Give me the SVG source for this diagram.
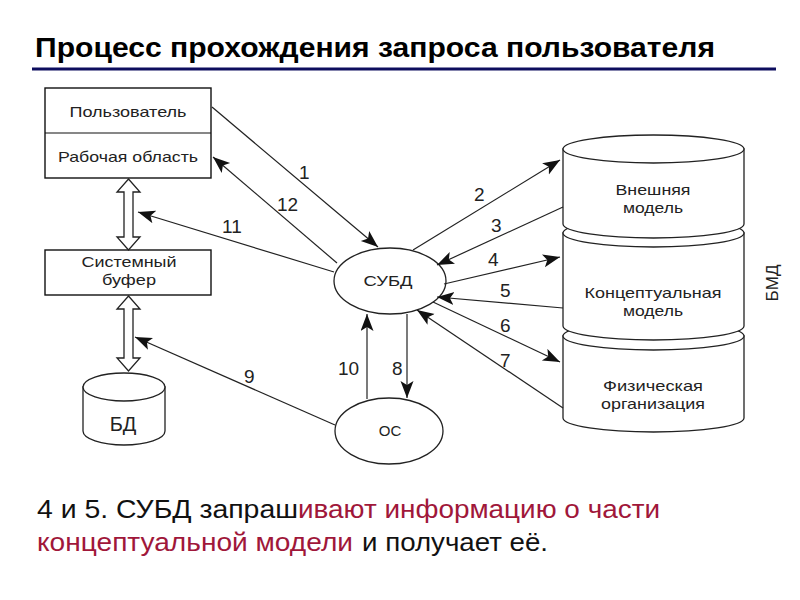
<svg xmlns="http://www.w3.org/2000/svg" width="800" height="600" viewBox="0 0 800 600">
<style>
.box{fill:#fff;stroke:#111;stroke-width:1.4}
.shape{fill:#fff;stroke:#222;stroke-width:1.3}
.t{font-family:"Liberation Sans",Arial,sans-serif;fill:#222;text-anchor:middle}
.n{font-size:15px}
.lbl{font-family:"Liberation Sans",Arial,sans-serif;font-size:19px;fill:#222}
.con{stroke:#222;stroke-width:1.2;fill:none;marker-end:url(#ah)}
.body{font-family:"Liberation Sans",Arial,sans-serif;font-size:26px;fill:#111}
.red{fill:#a0173a}
</style>
<defs>
<marker id="ah" markerUnits="userSpaceOnUse" markerWidth="20" markerHeight="14" refX="17" refY="6.5" orient="auto">
<path d="M0,0 L17,6.5 L0,13 L4,6.5 z" fill="#111"/>
</marker>
</defs>
<rect width="800" height="600" fill="#fff"/>

<text x="35" y="57" font-family="Liberation Sans,Arial,sans-serif" font-size="28" font-weight="bold" fill="#000" textLength="680" lengthAdjust="spacingAndGlyphs">Процесс прохождения запроса пользователя</text>
<line x1="32" y1="69" x2="776" y2="69" stroke="#0d0d5e" stroke-width="3"/>

<g id="user">
<rect class="box" x="45" y="88" width="166" height="90"/>
<line x1="45" y1="133" x2="211" y2="133" stroke="#111" stroke-width="1.2"/>
<text class="t n" x="128" y="117" textLength="117" lengthAdjust="spacingAndGlyphs">Пользователь</text>
<text class="t n" x="128" y="162" textLength="140" lengthAdjust="spacingAndGlyphs">Рабочая область</text>
</g>

<g id="buffer">
<rect class="box" x="45" y="250" width="166" height="45"/>
<text class="t n" x="129" y="267" textLength="95" lengthAdjust="spacingAndGlyphs">Системный</text>
<text class="t n" x="129" y="285" textLength="54" lengthAdjust="spacingAndGlyphs">буфер</text>
</g>

<g id="arrow-user-buffer">
<polygon class="shape" points="128.5,179 140,192 133,192 133,237 140,237 128.5,250 117,237 124,237 124,192 117,192"/>
</g>
<g id="arrow-buffer-bd">
<polygon class="shape" points="128.5,296 140,309 133,309 133,358 140,358 128.5,371 117,358 124,358 124,309 117,309"/>
</g>

<g id="bd">
<path class="shape" d="M83,387 L83,431 A41,14 0 0 0 165,431 L165,387 Z"/>
<ellipse class="shape" cx="124" cy="387" rx="41" ry="14"/>
<text class="t" x="123" y="431" font-size="20">БД</text>
</g>

<g id="subd">
<ellipse class="shape" cx="390" cy="281" rx="56" ry="33"/>
<text class="t" x="388" y="286" font-size="15" textLength="49" lengthAdjust="spacingAndGlyphs">СУБД</text>
</g>

<g id="os">
<ellipse class="shape" cx="389" cy="431" rx="54" ry="33"/>
<text class="t" x="390" y="436" font-size="15">ОС</text>
</g>

<g id="phys">
<path class="shape" d="M563,336 L563,418 A90.5,14 0 0 0 744,418 L744,336 Z"/>
<ellipse class="shape" cx="653.5" cy="336" rx="90.5" ry="14"/>
<text class="t n" x="653" y="391" textLength="100" lengthAdjust="spacingAndGlyphs">Физическая</text>
<text class="t n" x="653" y="409" textLength="104" lengthAdjust="spacingAndGlyphs">организация</text>
</g>
<g id="concept">
<path class="shape" d="M563,233 L563,326 A90.5,14 0 0 0 744,326 L744,233 Z"/>
<ellipse class="shape" cx="653.5" cy="233" rx="90.5" ry="14"/>
<text class="t n" x="653" y="298" textLength="137" lengthAdjust="spacingAndGlyphs">Концептуальная</text>
<text class="t n" x="653" y="316" textLength="60" lengthAdjust="spacingAndGlyphs">модель</text>
</g>
<g id="external">
<path class="shape" d="M563,149 L563,224 A90.5,14 0 0 0 744,224 L744,149 Z"/>
<ellipse class="shape" cx="653.5" cy="149" rx="90.5" ry="14"/>
<text class="t n" x="653" y="195" textLength="75" lengthAdjust="spacingAndGlyphs">Внешняя</text>
<text class="t n" x="653" y="213" textLength="60" lengthAdjust="spacingAndGlyphs">модель</text>
</g>

<text class="t" x="0" y="0" font-size="17" transform="translate(778,283) rotate(-90)">БМД</text>

<g id="connectors">
<line class="con" x1="212" y1="107" x2="378" y2="247"/>
<line class="con" x1="337" y1="263" x2="213" y2="157"/>
<line class="con" x1="334" y1="272" x2="138" y2="212"/>
<line class="con" x1="335" y1="425" x2="135" y2="337"/>
<line class="con" x1="367" y1="399" x2="367" y2="314"/>
<line class="con" x1="407" y1="314" x2="407" y2="398"/>
<line class="con" x1="413" y1="250" x2="560" y2="160"/>
<line class="con" x1="563" y1="207" x2="437" y2="265"/>
<line class="con" x1="444" y1="284" x2="560" y2="257"/>
<line class="con" x1="563" y1="308" x2="437" y2="297"/>
<line class="con" x1="433" y1="302" x2="560" y2="362"/>
<line class="con" x1="563" y1="408" x2="417" y2="310"/>
</g>

<g id="labels">
<text class="lbl" x="299" y="179">1</text>
<text class="lbl" x="277" y="211">12</text>
<text class="lbl" x="222" y="233">11</text>
<text class="lbl" x="244" y="383">9</text>
<text class="lbl" x="338" y="375">10</text>
<text class="lbl" x="392" y="375">8</text>
<text class="lbl" x="474" y="201">2</text>
<text class="lbl" x="491" y="232">3</text>
<text class="lbl" x="488" y="266">4</text>
<text class="lbl" x="500" y="297">5</text>
<text class="lbl" x="500" y="332">6</text>
<text class="lbl" x="500" y="367">7</text>
</g>

<text class="body" x="37" y="518" textLength="261" lengthAdjust="spacingAndGlyphs">4 и 5. СУБД запраш</text>
<text class="body red" x="298" y="518" textLength="362" lengthAdjust="spacingAndGlyphs">ивают информацию о части</text>
<text class="body red" x="37" y="551" textLength="316" lengthAdjust="spacingAndGlyphs">концептуальной модели</text>
<text class="body" x="362" y="551" textLength="186" lengthAdjust="spacingAndGlyphs">и получает её.</text>
</svg>
